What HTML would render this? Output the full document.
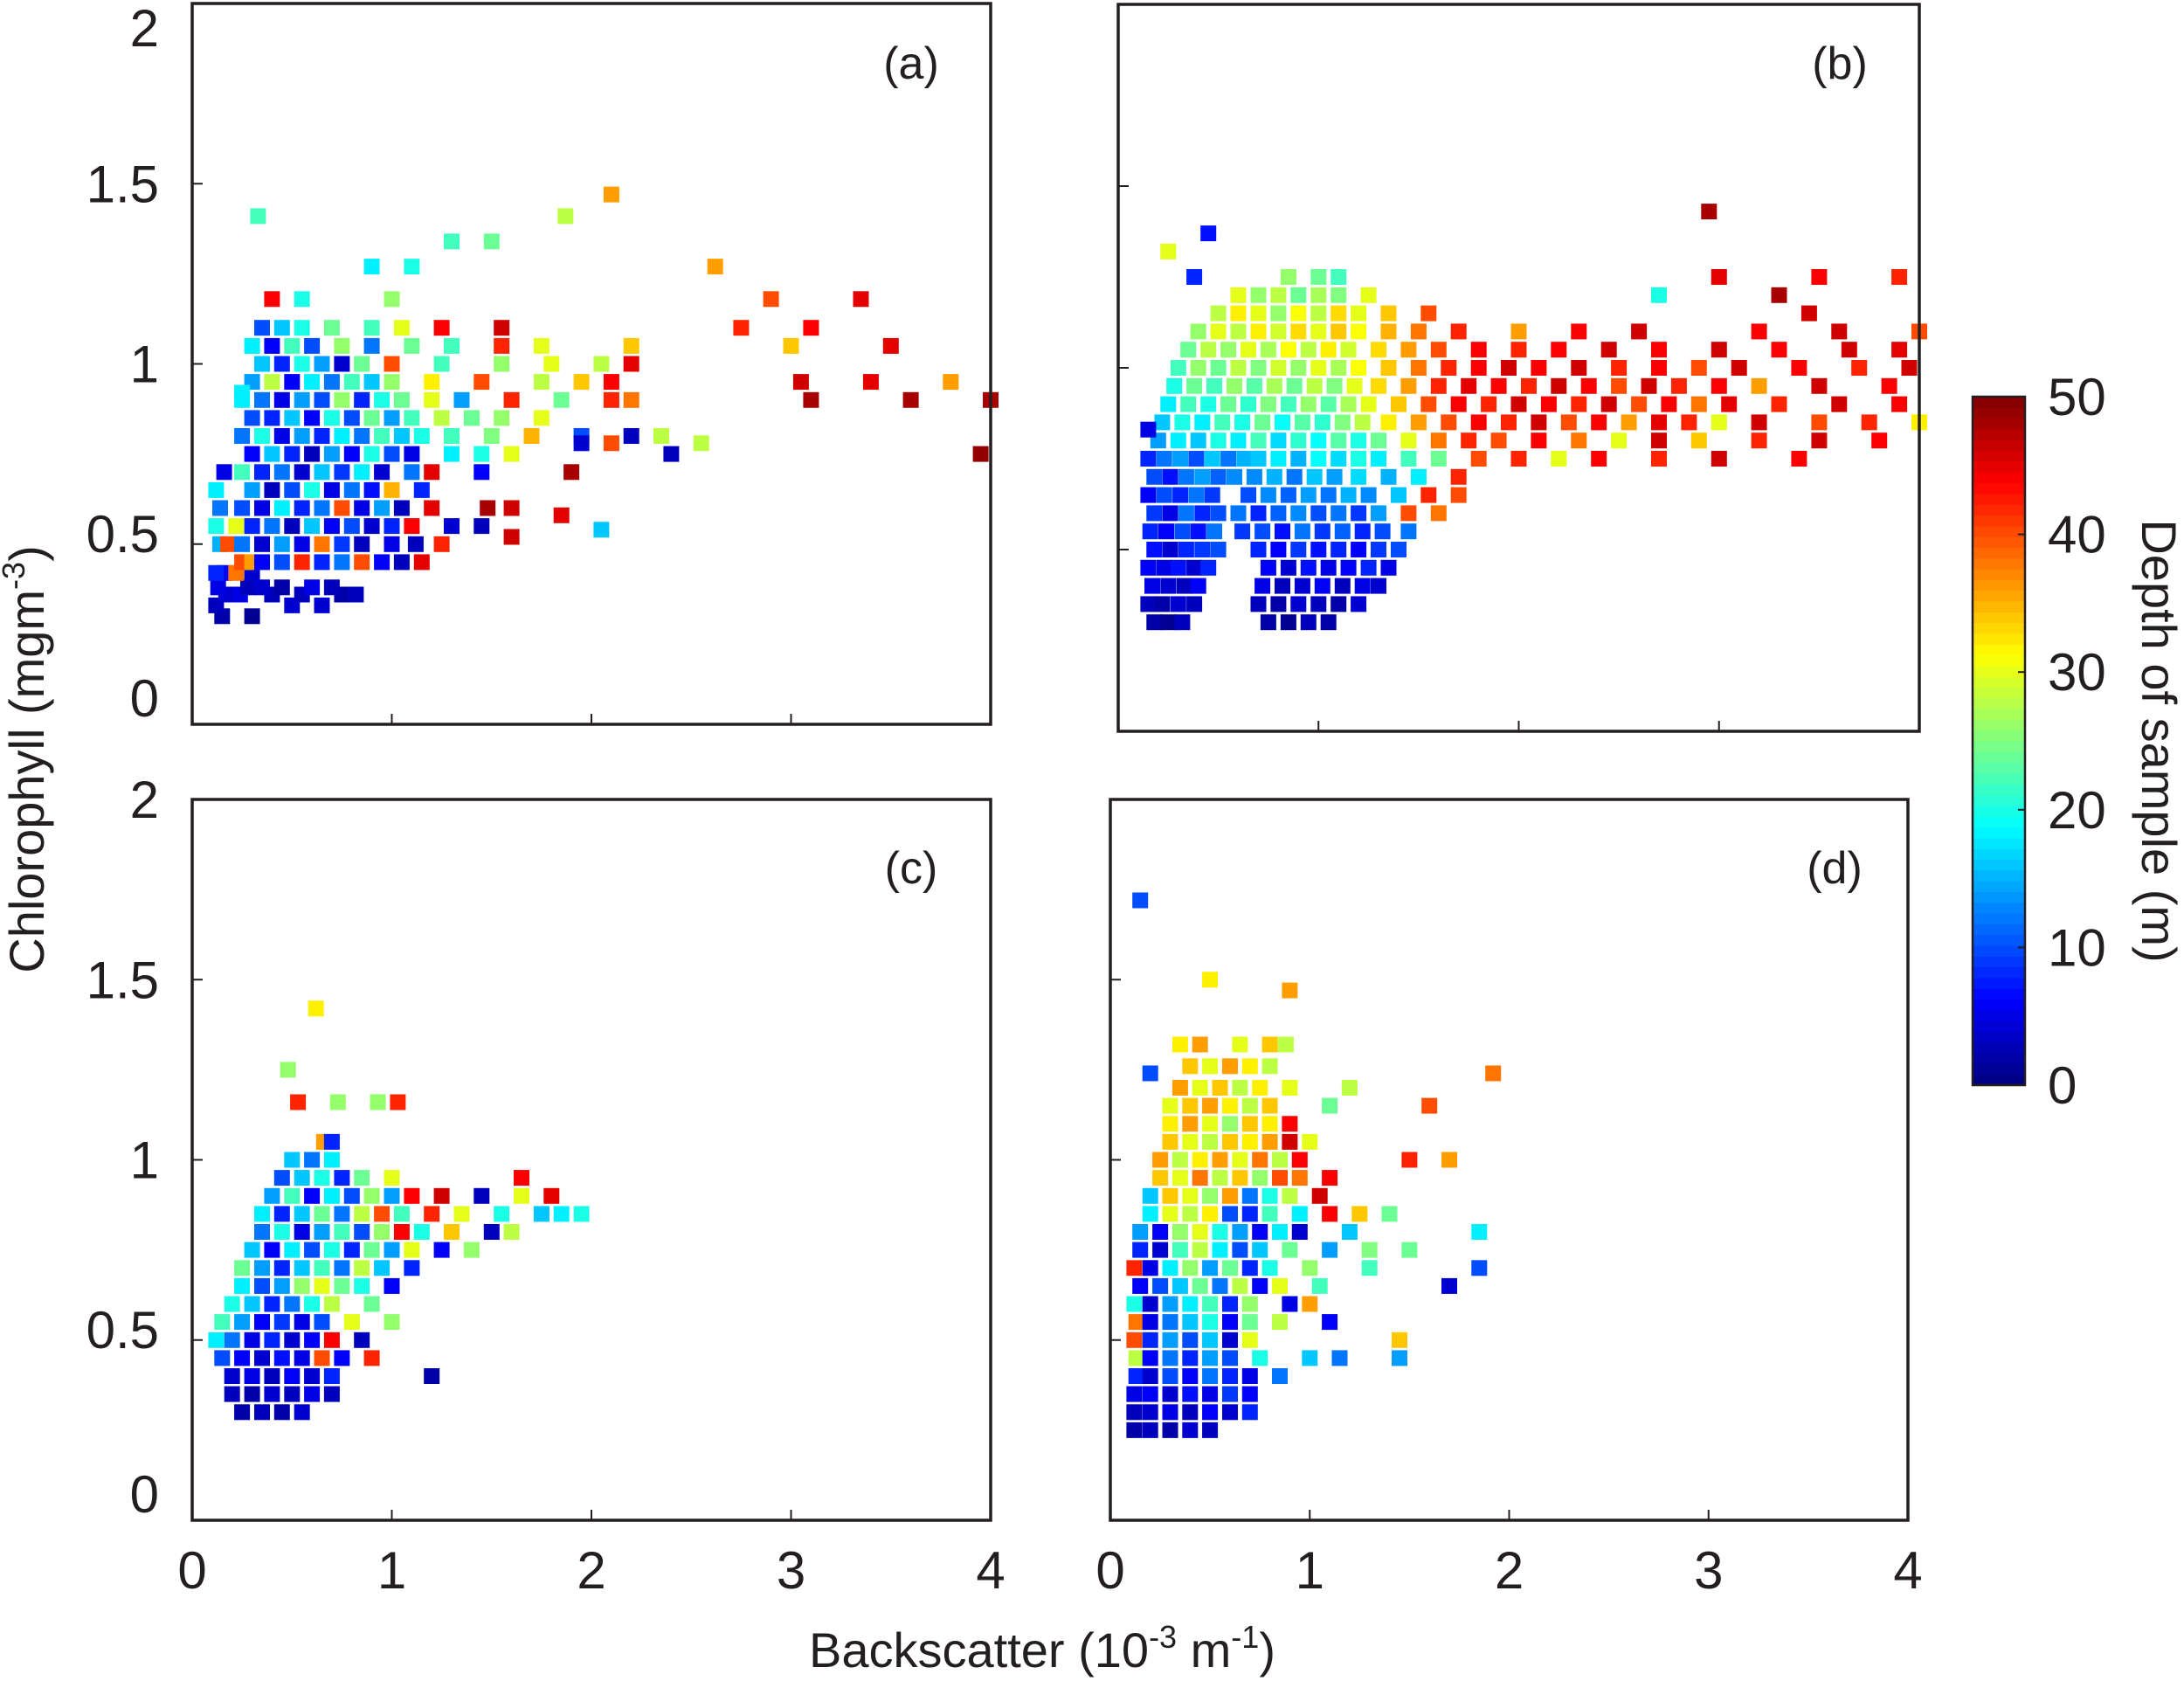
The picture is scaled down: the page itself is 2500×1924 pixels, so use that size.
<!DOCTYPE html>
<html><head><meta charset="utf-8">
<style>
html,body{margin:0;padding:0;background:#fff;}
svg{display:block;}
text{font-family:"Liberation Sans",Arial,sans-serif;fill:#231f20;}
</style></head>
<body>
<svg id="fig" width="2500" height="1924" viewBox="0 0 2500 1924" xmlns="http://www.w3.org/2000/svg">
<g id="plots"></g>
<text transform="translate(50,869) rotate(-90)" text-anchor="middle" font-size="56">Chlorophyll (mgm<tspan font-size="36" dy="-22">-3</tspan><tspan dy="22">)</tspan></text>
<text x="1193" y="1908" text-anchor="middle" font-size="56">Backscatter (10<tspan font-size="36" dy="-22">-3</tspan><tspan dy="22"> m</tspan><tspan font-size="36" dy="-22">-1</tspan><tspan dy="22">)</tspan></text>
<text transform="translate(2452,848) rotate(90)" text-anchor="middle" font-size="56">Depth of sample (m)</text>
</svg>
<script>
// ---- data ----
const xTickLabels = ["0","1","2","3","4"];
const yTickLabels = ["0","0.5","1","1.5","2"];
const xTicks = [0,1,2,3,4];
const yTicks = [0,0.5,1,1.5,2];
const cbTicks = [0,10,20,30,40,50];
const panelLetters = ["(a)","(b)","(c)","(d)"];

// rows: [chlorophyll, [backscatter, depth, backscatter, depth, ...]]
const panelARows = [
[0.30,[0.15,2,0.3,1]],
[0.33,[0.12,3,0.5,4,0.65,4]],
[0.36,[0.17,4,0.24,5,0.4,3,0.55,3,0.75,2,0.82,3]],
[0.38,[0.13,5,0.28,3,0.35,4,0.45,2,0.6,5,0.7,3]],
[0.42,[0.16,6,0.22,38,0.12,8,0.3,4]],
[0.45,[0.25,40,0.3,36,0.35,6,0.45,10,0.55,42,0.65,8,0.75,12,0.85,40,0.95,6,1.05,3,1.15,45]],
[0.50,[0.14,15,0.18,40,0.25,12,0.35,4,0.45,14,0.55,5,0.65,38,0.75,9,0.85,3,1.0,5,1.12,3,1.25,42]],
[0.55,[0.12,20,0.22,30,0.3,8,0.4,12,0.5,3,0.6,16,0.7,6,0.8,10,0.9,4,1.0,8,1.1,44,1.3,4,1.45,3]],
[0.60,[0.14,12,0.25,10,0.35,5,0.45,18,0.55,8,0.65,12,0.75,40,0.85,5,0.95,14,1.05,3,1.2,45,1.48,48,1.6,46]],
[0.65,[0.12,18,0.3,14,0.4,3,0.5,10,0.6,20,0.7,5,0.8,12,0.9,7,1.0,35,1.15,8]],
[0.70,[0.16,5,0.25,22,0.35,8,0.45,12,0.55,4,0.65,16,0.75,9,0.85,18,0.95,4,1.1,12,1.2,45,1.45,6,1.9,48]],
[0.75,[0.3,6,0.4,16,0.5,8,0.6,3,0.7,14,0.8,6,0.9,20,1.0,10,1.1,5,1.3,18,1.45,20,1.6,30,2.4,3]],
[0.80,[0.25,12,0.35,20,0.45,5,0.55,14,0.65,8,0.75,18,0.85,12,0.95,22,1.05,16,1.15,20,1.3,22,1.5,25,1.7,35,1.95,10,2.2,3,2.35,28]],
[0.85,[0.3,10,0.4,8,0.5,16,0.6,6,0.7,20,0.8,10,0.9,24,1.0,14,1.1,22,1.25,28,1.4,24,1.55,26,1.75,30]],
[0.90,[0.25,18,0.35,12,0.45,5,0.55,14,0.65,10,0.75,26,0.85,8,0.95,20,1.05,24,1.2,30,1.35,14,1.6,42,1.85,24,2.1,42,2.2,38,3.1,48,3.6,48]],
[0.95,[0.3,14,0.4,28,0.5,6,0.6,18,0.7,12,0.8,22,0.9,16,1.0,26,1.2,32,1.45,40,1.75,28,1.95,34,2.1,44,3.05,46,3.4,45,3.8,36]],
[1.00,[0.35,16,0.45,8,0.55,20,0.65,14,0.75,4,0.85,24,1.0,40,1.25,22,1.55,26,1.8,30,2.05,28,2.2,45]],
[1.05,[0.3,18,0.4,6,0.5,22,0.6,10,0.75,26,0.9,12,1.1,24,1.3,22,1.55,42,1.75,30,2.2,34,3.0,34,3.5,45]],
[1.10,[0.35,10,0.45,16,0.55,20,0.7,24,0.9,22,1.05,30,1.25,44,1.55,46,2.75,42,3.1,44]],
[1.18,[0.4,44,0.55,20,1.0,26,2.9,40,3.35,45]],
[1.27,[0.9,18,1.1,20,2.62,36]],
[1.34,[1.3,22,1.5,24]],
[1.41,[0.33,22,1.87,28]],
[1.47,[2.1,36]],
[0.92,[0.25,18]],
[0.90,[4.0,48]],
[0.75,[3.95,49]],
[0.54,[2.05,16]],
[0.52,[1.6,46]],
[0.58,[1.85,45]],
[0.78,[1.95,4,2.1,40,2.55,28]]
];

const panelBRows = [
[0.30,[0.18,2,0.25,1,0.32,3,0.75,2,0.85,1,0.95,3,1.05,2]],
[0.35,[0.15,3,0.22,2,0.3,4,0.38,3,0.7,3,0.8,2,0.9,4,1.0,3,1.1,2,1.2,4]],
[0.40,[0.17,5,0.25,4,0.33,3,0.4,6,0.72,5,0.82,3,0.92,4,1.02,6,1.12,3,1.22,5,1.3,4]],
[0.45,[0.15,6,0.23,5,0.3,7,0.38,4,0.45,8,0.75,6,0.85,4,0.95,7,1.05,5,1.15,6,1.25,8,1.35,5]],
[0.50,[0.18,7,0.26,4,0.34,8,0.42,9,0.5,10,0.7,8,0.8,6,0.9,9,1.0,7,1.1,8,1.2,6,1.3,9,1.4,10]],
[0.55,[0.16,8,0.24,6,0.32,10,0.4,7,0.48,12,0.62,9,0.72,10,0.82,7,0.92,12,1.02,9,1.12,11,1.22,8,1.32,10,1.45,12]],
[0.60,[0.18,9,0.26,5,0.34,12,0.42,8,0.5,10,0.6,12,0.7,8,0.8,11,0.9,13,1.0,10,1.1,12,1.2,9,1.3,14,1.45,40,1.6,38]],
[0.65,[0.15,6,0.23,10,0.31,8,0.39,12,0.47,9,0.65,10,0.75,13,0.85,11,0.95,14,1.05,12,1.15,15,1.25,13,1.4,16,1.55,42,1.7,40]],
[0.70,[0.18,10,0.26,7,0.34,12,0.42,14,0.5,11,0.58,13,0.68,13,0.78,15,0.88,12,0.98,16,1.08,14,1.2,17,1.35,15,1.5,18,1.7,42]],
[0.75,[0.15,8,0.23,12,0.31,14,0.39,10,0.47,16,0.55,12,0.63,15,0.7,16,0.8,18,0.9,15,1.0,19,1.1,17,1.2,20,1.3,18,1.45,22,1.6,24,1.8,40,2.0,42,2.2,30,2.4,44,2.7,42,3.0,46,3.4,44]],
[0.80,[0.2,14,0.3,18,0.4,16,0.5,20,0.6,18,0.7,22,0.8,17,0.9,21,1.0,19,1.1,23,1.2,20,1.3,24,1.45,30,1.6,38,1.75,42,1.9,40,2.1,44,2.3,38,2.5,30,2.7,46,2.9,34,3.2,42,3.5,46,3.8,44]],
[0.85,[0.22,16,0.32,20,0.42,18,0.52,22,0.62,20,0.72,24,0.82,19,0.92,23,1.02,21,1.12,25,1.22,28,1.35,32,1.5,36,1.65,40,1.8,44,1.95,42,2.1,46,2.25,40,2.4,44,2.55,36,2.7,45,2.85,42,3.0,30,3.2,46,3.5,40,3.75,42,4.0,32]],
[0.90,[0.25,18,0.35,22,0.45,20,0.55,24,0.65,21,0.75,25,0.85,22,0.95,26,1.05,23,1.15,27,1.25,30,1.4,34,1.55,40,1.7,44,1.85,42,2.0,46,2.15,44,2.3,42,2.45,46,2.6,40,2.75,44,2.9,38,3.05,45,3.3,42,3.6,46,3.9,44]],
[0.95,[0.28,20,0.38,24,0.48,22,0.58,26,0.68,23,0.78,27,0.88,24,0.98,28,1.08,25,1.18,30,1.3,33,1.45,36,1.6,42,1.75,45,1.9,44,2.05,42,2.2,46,2.35,44,2.5,40,2.65,46,2.8,42,3.0,44,3.2,36,3.5,46,3.85,44]],
[1.00,[0.3,22,0.4,26,0.5,24,0.6,28,0.7,25,0.8,29,0.9,26,1.0,30,1.1,27,1.2,31,1.35,34,1.5,38,1.65,42,1.8,44,1.95,46,2.1,44,2.3,46,2.5,42,2.7,44,2.9,40,3.1,46,3.4,44,3.7,42,3.95,46]],
[1.05,[0.35,24,0.45,28,0.55,26,0.65,30,0.75,27,0.85,31,0.95,28,1.05,32,1.15,29,1.3,33,1.45,36,1.6,40,1.8,44,2.0,42,2.2,44,2.45,46,2.7,44,3.0,46,3.3,44,3.65,46,3.9,45]],
[1.10,[0.4,26,0.5,30,0.6,28,0.7,32,0.8,29,0.9,33,1.0,30,1.1,34,1.2,31,1.35,35,1.5,38,1.7,42,2.0,36,2.3,44,2.6,46,3.2,44,3.6,46,4.0,40]],
[1.15,[0.5,28,0.6,32,0.7,30,0.8,26,0.9,31,1.0,28,1.1,33,1.2,30,1.35,34,1.55,40,3.45,46]],
[1.20,[0.6,30,0.7,26,0.8,28,0.9,24,1.0,27,1.1,25,1.25,30,2.7,20,3.3,48]],
[1.25,[0.85,26,1.0,24,1.1,22,0.38,8,3.0,45,3.5,44,3.9,42]],
[1.32,[0.25,30]],
[1.37,[0.45,7]],
[1.43,[2.95,48]],
[0.83,[0.15,5]]
];

const panelCRows = [
[0.30,[0.25,2,0.35,3,0.45,2,0.55,4]],
[0.35,[0.2,3,0.3,2,0.4,4,0.5,3,0.6,5,0.7,3]],
[0.40,[0.2,4,0.3,5,0.4,3,0.5,6,0.6,4,0.7,8,1.2,2]],
[0.45,[0.15,10,0.25,6,0.35,4,0.45,7,0.55,5,0.65,40,0.75,6,0.9,42]],
[0.50,[0.12,18,0.2,12,0.3,5,0.4,8,0.5,4,0.6,6,0.7,44,0.85,3]],
[0.55,[0.15,22,0.25,14,0.35,6,0.45,9,0.55,5,0.65,10,0.8,30,1.0,26]],
[0.60,[0.2,20,0.3,16,0.4,8,0.5,12,0.6,20,0.7,28,0.9,24]],
[0.65,[0.25,18,0.35,10,0.45,14,0.55,26,0.65,30,0.75,24,0.85,20,1.0,6]],
[0.70,[0.25,24,0.35,14,0.45,8,0.55,16,0.65,22,0.75,12,0.85,28,0.95,16,1.1,8]],
[0.75,[0.3,16,0.4,6,0.5,18,0.6,10,0.7,20,0.8,8,0.9,24,1.0,14,1.1,30,1.25,6,1.4,26]],
[0.80,[0.35,12,0.45,20,0.55,5,0.65,14,0.75,22,0.85,10,0.95,26,1.05,44,1.15,20,1.3,34,1.5,3,1.6,28]],
[0.85,[0.35,18,0.45,8,0.55,16,0.65,24,0.75,12,0.85,28,0.95,40,1.05,22,1.2,42,1.35,30,1.55,20,1.75,16,1.85,18,1.95,20]],
[0.90,[0.4,14,0.5,22,0.6,6,0.7,18,0.8,10,0.9,26,1.0,14,1.1,44,1.25,46,1.45,3,1.65,30,1.8,45]],
[0.95,[0.45,10,0.55,16,0.65,20,0.75,8,0.85,24,1.0,30,1.65,44]],
[1.00,[0.5,16,0.6,12,0.7,18]],
[1.05,[0.66,36,0.7,8]],
[1.16,[0.53,42,0.73,26,0.93,26,1.03,42]],
[1.25,[0.48,26]],
[1.42,[0.62,32]]
];

const panelDRows = [
[0.25,[0.12,2,0.2,3,0.3,2,0.4,4,0.5,3]],
[0.30,[0.12,3,0.2,4,0.3,5,0.4,3,0.5,6,0.6,4,0.7,8]],
[0.35,[0.12,5,0.2,6,0.3,4,0.4,7,0.5,5,0.6,9,0.7,6]],
[0.40,[0.13,8,0.2,4,0.3,10,0.4,6,0.5,12,0.6,8,0.7,5,0.85,12]],
[0.45,[0.13,28,0.2,6,0.3,12,0.4,8,0.5,14,0.6,10,0.75,20,1.0,16,1.15,12,1.45,14]],
[0.50,[0.12,40,0.2,8,0.3,14,0.4,10,0.5,16,0.6,4,0.7,30,1.45,34]],
[0.55,[0.13,38,0.2,5,0.3,12,0.4,16,0.5,20,0.6,6,0.7,24,0.85,28,1.1,6]],
[0.60,[0.12,20,0.2,4,0.3,14,0.4,18,0.5,22,0.6,8,0.7,26,0.9,5,1.0,36]],
[0.65,[0.15,6,0.25,10,0.35,16,0.45,24,0.55,12,0.65,28,0.75,6,0.85,30,1.05,22,1.7,4]],
[0.70,[0.12,42,0.2,5,0.3,18,0.4,26,0.5,14,0.6,24,0.7,8,0.8,20,1.0,26,1.3,22,1.85,10]],
[0.75,[0.15,8,0.25,4,0.35,22,0.45,28,0.55,18,0.65,10,0.75,16,0.9,24,1.1,14,1.3,25,1.5,24]],
[0.80,[0.15,14,0.25,6,0.35,26,0.45,30,0.55,20,0.65,14,0.75,6,0.85,18,0.95,4,1.2,16,1.85,18]],
[0.85,[0.2,18,0.3,30,0.4,28,0.5,32,0.6,10,0.7,8,0.8,22,0.95,18,1.1,44,1.25,34,1.4,24]],
[0.90,[0.2,16,0.3,34,0.4,30,0.5,26,0.6,36,0.7,12,0.8,20,0.9,28,1.05,46]],
[0.95,[0.25,34,0.35,30,0.45,38,0.55,28,0.65,34,0.75,26,0.85,40,0.95,38,1.1,44]],
[1.00,[0.25,36,0.35,28,0.45,32,0.55,36,0.65,30,0.75,38,0.85,28,0.95,44,1.5,42,1.7,36]],
[1.05,[0.3,34,0.4,30,0.5,28,0.6,34,0.7,32,0.8,36,0.9,46,1.0,30]],
[1.10,[0.3,32,0.4,36,0.5,30,0.6,26,0.7,34,0.8,32,0.9,44]],
[1.15,[0.3,30,0.4,34,0.5,36,0.6,32,0.7,28,0.8,34,1.1,24,1.6,40]],
[1.20,[0.35,36,0.45,30,0.55,34,0.65,28,0.75,32,0.9,30,1.2,28]],
[1.24,[0.2,10,1.92,38]],
[1.26,[0.4,34,0.5,30,0.6,36,0.7,32,0.8,28]],
[1.32,[0.35,32,0.45,36,0.65,30,0.8,34,0.88,28]],
[1.47,[0.9,36]],
[1.50,[0.5,32]],
[1.72,[0.15,10]]
];

// ---- layout ----
const panels = [
 {name:"a", rows:panelARows, L:220, R:1134, T:4, B:829, yLabels:true, xLabels:false, lx:1043, ly:72},
 {name:"b", rows:panelBRows, L:1280, R:2197, T:5, B:837, yLabels:false, xLabels:false, lx:2106, ly:72},
 {name:"c", rows:panelCRows, L:220, R:1134, T:915, B:1740, yLabels:true, xLabels:true, lx:1043, ly:993},
 {name:"d", rows:panelDRows, L:1271, R:2184, T:915, B:1740, yLabels:false, xLabels:true, lx:2100, ly:993}
];
const NS = "http://www.w3.org/2000/svg";
const plots = document.getElementById("plots");
function jet(v){
  const t = Math.max(0, Math.min(1, v/50));
  const c = k => Math.round(255*Math.max(0, Math.min(1, 1.5 - Math.abs(4*t - k))));
  return `rgb(${c(3)},${c(2)},${c(1)})`;
}
function mk(tag, attrs){
  const e = document.createElementNS(NS, tag);
  for (const k in attrs) e.setAttribute(k, attrs[k]);
  return e;
}
panels.forEach((p, pi) => {
  const g = mk("g", {});
  
  
  plots.appendChild(g);
  const xs = v => p.L + (v/4)*(p.R - p.L);
  const ys = v => p.B - (v/2)*(p.B - p.T);
  const pts = mk("g", {});
  
  
  g.appendChild(pts);
  const S = 18;
  p.rows.forEach(row => {
    const y = row[0], arr = row[1];
    for (let i = 0; i < arr.length; i += 2) {
      const r = mk("rect", {x:(xs(arr[i]) - S/2).toFixed(1), y:(ys(y) - S/2).toFixed(1), width:S, height:S, fill:jet(arr[i+1])});
      
      
      pts.appendChild(r);
    }
  });
  xTicks.forEach((v, i) => {
    if (i > 0 && i < xTicks.length - 1) {
      const t = mk("line", {x1:xs(v), x2:xs(v), y1:p.B, y2:p.B - 12, stroke:"#231f20", "stroke-width":2});
      
      
      g.appendChild(t);
    }
    if (p.xLabels) {
      const tx = mk("text", {x:xs(v), y:p.B + 78, "text-anchor":"middle", "font-size":60});
      tx.textContent = xTickLabels[i];
      
      
      g.appendChild(tx);
    }
  });
  yTicks.forEach((v, i) => {
    if (i > 0 && i < yTicks.length - 1) {
      const t = mk("line", {x1:p.L, x2:p.L + 12, y1:ys(v), y2:ys(v), stroke:"#231f20", "stroke-width":2});
      
      
      g.appendChild(t);
    }
    if (p.yLabels) {
      let cy = ys(v);
      if (i === 0) cy -= 30;
      if (i === 1) cy -= 12;
      if (i === yTicks.length - 1 && cy < 32) cy = 32;
      const tx = mk("text", {x:p.L - 38, y:cy + 21, "text-anchor":"end", "font-size":60});
      tx.textContent = yTickLabels[i];
      
      
      g.appendChild(tx);
    }
  });
  const box = mk("rect", {x:p.L, y:p.T, width:p.R - p.L, height:p.B - p.T, fill:"none", stroke:"#231f20", "stroke-width":3.5});
  
  
  g.appendChild(box);
  const lt = mk("text", {x:p.lx, y:p.ly + 18, "text-anchor":"middle", "font-size":52});
  lt.textContent = panelLetters[pi];
  
  
  g.appendChild(lt);
});
const CB = {L:2258, R:2318, T:454, B:1242};
const cbg = mk("g", {});


plots.appendChild(cbg);
const steps = 64;
for (let i = 0; i < steps; i++) {
  const h = (CB.B - CB.T)/steps;
  const r = mk("rect", {x:CB.L, y:(CB.B - (i+1)*h).toFixed(2), width:CB.R - CB.L, height:(h + 0.6).toFixed(2), fill:jet((i + 0.5)/steps*50)});
  
  
  cbg.appendChild(r);
}
const cbBox = mk("rect", {x:CB.L, y:CB.T, width:CB.R - CB.L, height:CB.B - CB.T, fill:"none", stroke:"#231f20", "stroke-width":2.5});


cbg.appendChild(cbBox);
cbTicks.forEach(v => {
  const y = CB.B - v/50*(CB.B - CB.T);
  if (v > 0 && v < 50) {
    const t = mk("line", {x1:CB.R - 8, x2:CB.R, y1:y, y2:y, stroke:"#231f20", "stroke-width":2});
    
    
    cbg.appendChild(t);
  }
  const tx = mk("text", {x:CB.R + 26, y:y + 21, "font-size":60});
  tx.textContent = String(v);
  
  
  cbg.appendChild(tx);
});
</script>
</body></html>
